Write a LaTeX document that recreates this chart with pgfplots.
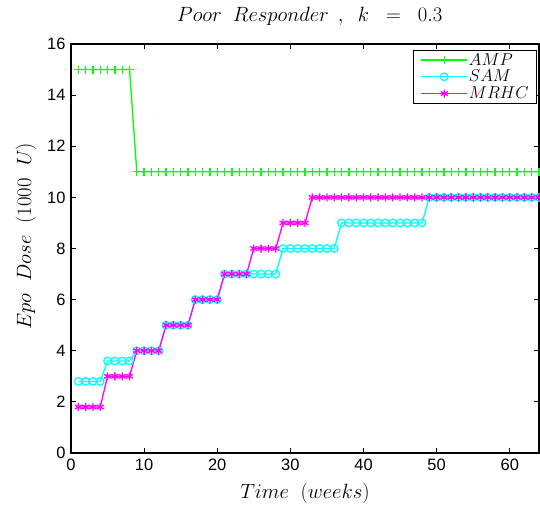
\documentclass[border=0pt]{standalone}
\usepackage[no-math]{fontspec}
\setmainfont{Liberation Sans}
\usepackage{pgfplots}
\pgfplotsset{compat=1.18}
\definecolor{mgreen}{rgb}{0,1,0}
\definecolor{mcyan}{rgb}{0,1,1}
\definecolor{mmag}{rgb}{1,0,1}
\begin{document}
\begin{tikzpicture}
\begin{axis}[name=ax,
 scale only axis, width=468bp, height=409bp,
 xmin=0, xmax=64, ymin=0, ymax=16,
 xtick={0,10,...,60}, ytick={0,2,...,16},
 tick align=inside, major tick length=5bp,
 tick style={black, line width=0.8bp},
 axis line style={line width=1.5bp},
 ticklabel style={font=\fontsize{16.5}{18}\selectfont},
 xticklabel style={yshift=-2bp},
 yticklabel style={xshift=-2bp},
 /pgf/number format/assume math mode=true,
 title={$Poor\ \ Responder\ \,,\ \ k\ \ =\ \ 0.3$},
 title style={font=\fontsize{20}{22}\selectfont, at={([yshift=22bp]axis description cs:0.51,1)}, anchor=center},
 xlabel={$Time\ \ (weeks)$},
 ylabel={$Epo\ \ Dose\ \ (1000\ \ U)$},
 xlabel style={font=\fontsize{21}{22}\selectfont, at={([yshift=-40bp]axis description cs:0.5,0)}, anchor=center},
 ylabel style={font=\fontsize{22}{22}\selectfont, at={([xshift=-45bp]axis description cs:0,0.53)}, anchor=center, rotate=0},
 legend style={at={([xshift=-2bp,yshift=-6bp]axis description cs:1,1)}, anchor=north east, draw=black, line width=0.8bp,
   font=\fontsize{19}{19}\selectfont, inner xsep=7bp, inner ysep=2bp, row sep=1.5bp,
   nodes={inner sep=1bp}},
 legend cell align=left,
 legend image code/.code={\draw[line width=1.3bp, mark repeat=2,mark phase=2] plot coordinates {(0bp,0bp) (23bp,0bp) (46bp,0bp)};},
 every axis plot/.append style={line width=1.3bp},
]
\addplot[mgreen, mark=+, mark size=4bp] coordinates {
(1,15)(2,15)(3,15)(4,15)(5,15)(6,15)(7,15)(8,15)
(9,11)(10,11)(11,11)(12,11)(13,11)(14,11)(15,11)(16,11)(17,11)(18,11)(19,11)(20,11)
(21,11)(22,11)(23,11)(24,11)(25,11)(26,11)(27,11)(28,11)(29,11)(30,11)(31,11)(32,11)
(33,11)(34,11)(35,11)(36,11)(37,11)(38,11)(39,11)(40,11)(41,11)(42,11)(43,11)(44,11)
(45,11)(46,11)(47,11)(48,11)(49,11)(50,11)(51,11)(52,11)(53,11)(54,11)(55,11)(56,11)
(57,11)(58,11)(59,11)(60,11)(61,11)(62,11)(63,11)(64,11)
};
\addlegendentry{$AMP$}
\addplot[mcyan, mark=o, mark size=3.8bp] coordinates {
(1,2.8)(2,2.8)(3,2.8)(4,2.8)(5,3.6)(6,3.6)(7,3.6)(8,3.6)
(9,4)(10,4)(11,4)(12,4)(13,5)(14,5)(15,5)(16,5)(17,6)(18,6)(19,6)(20,6)
(21,7)(22,7)(23,7)(24,7)(25,7)(26,7)(27,7)(28,7)(29,8)(30,8)(31,8)(32,8)
(33,8)(34,8)(35,8)(36,8)(37,9)(38,9)(39,9)(40,9)(41,9)(42,9)(43,9)(44,9)
(45,9)(46,9)(47,9)(48,9)(49,10)(50,10)(51,10)(52,10)(53,10)(54,10)(55,10)(56,10)
(57,10)(58,10)(59,10)(60,10)(61,10)(62,10)(63,10)(64,10)
};
\addlegendentry{$SAM$}
\addplot[mmag, mark=asterisk, mark size=4bp] coordinates {
(1,1.8)(2,1.8)(3,1.8)(4,1.8)(5,3)(6,3)(7,3)(8,3)
(9,4)(10,4)(11,4)(12,4)(13,5)(14,5)(15,5)(16,5)(17,6)(18,6)(19,6)(20,6)
(21,7)(22,7)(23,7)(24,7)(25,8)(26,8)(27,8)(28,8)(29,9)(30,9)(31,9)(32,9)
(33,10)(34,10)(35,10)(36,10)(37,10)(38,10)(39,10)(40,10)(41,10)(42,10)(43,10)(44,10)
(45,10)(46,10)(47,10)(48,10)(49,10)(50,10)(51,10)(52,10)(53,10)(54,10)(55,10)(56,10)
(57,10)(58,10)(59,10)(60,10)(61,10)(62,10)(63,10)(64,10)
};
\addlegendentry{$MRHC$}
\end{axis}
\pgfresetboundingbox
\path[use as bounding box] ([shift={(-71bp,-55bp)}]ax.south west) rectangle ([shift={(1bp,44bp)}]ax.north east);
\end{tikzpicture}
\end{document}
